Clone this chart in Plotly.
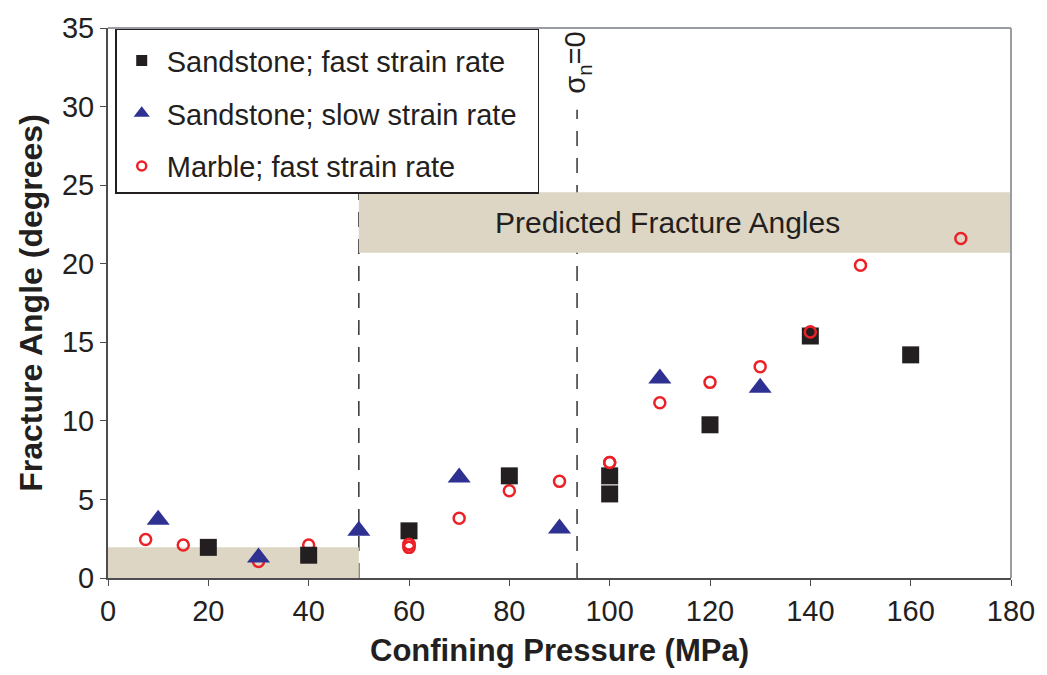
import plotly.graph_objects as go

# Data
ss_fast_x = [20, 40, 60, 80, 100, 100, 120, 140, 160]
ss_fast_y = [1.95, 1.45, 3.0, 6.5, 6.5, 5.35, 9.75, 15.4, 14.2]

ss_slow_x = [10, 30, 50, 70, 90, 110, 130]
ss_slow_y = [3.7, 1.3, 3.0, 6.4, 3.15, 12.7, 12.1]

marble_x = [7.5, 15, 30, 40, 60, 60, 70, 80, 90, 100, 110, 120, 130, 140, 150, 170]
marble_y = [2.45, 2.1, 1.05, 2.1, 2.15, 1.95, 3.8, 5.55, 6.15, 7.35, 11.15, 12.45, 13.45, 15.65, 19.9, 21.6]

names = ["Sandstone; fast strain rate", "Sandstone; slow strain rate\u00a0\u00a0", "Marble; fast strain rate"]

# Regions
low_band_x = [0, 50]
low_band_y = [0, 1.95]
pred_band_x = [50, 180]
pred_band_y = [20.7, 24.55]
dash1_x = 50
dash1_y = [0, 25]
dash2_x = 93.5
dash2_y = [0, 29.8]

FONT = "Liberation Sans, Arial, sans-serif"
TXT = "#231f20"
BEIGE = "#ddd6c4"

fig = go.Figure()

fig.add_trace(go.Scatter(x=marble_x, y=marble_y, mode="markers", showlegend=False,
                         marker=dict(symbol="circle-open", size=11, color="#ec2127", line=dict(width=2.5, color="#ec2127"))))
fig.add_trace(go.Scatter(x=ss_fast_x, y=ss_fast_y, mode="markers", showlegend=False,
                         marker=dict(symbol="square", size=17, color="#231f20", line=dict(width=0))))
fig.add_trace(go.Scatter(x=ss_slow_x, y=ss_slow_y, mode="markers", showlegend=False,
                         marker=dict(symbol="triangle-up", size=20, color="#2e3192", line=dict(width=0))))
sel = [i for i in range(len(marble_x)) if marble_x[i] in (60, 100, 140)]
fig.add_trace(go.Scatter(x=[marble_x[i] for i in sel], y=[marble_y[i] for i in sel],
                         mode="markers", showlegend=False,
                         marker=dict(symbol="circle-open", size=11, color="#ec2127", line=dict(width=2.5, color="#ec2127"))))

# legend entries
fig.add_trace(go.Scatter(x=[None], y=[None], mode="markers", name=names[0], legendgroup="a",
                         marker=dict(symbol="square", size=11, color="#231f20", line=dict(width=0))))
fig.add_trace(go.Scatter(x=[None], y=[None], mode="markers", name=names[1], legendgroup="b",
                         marker=dict(symbol="triangle-up", size=14, color="#2e3192", line=dict(width=0))))
fig.add_trace(go.Scatter(x=[None], y=[None], mode="markers", name=names[2], legendgroup="c",
                         marker=dict(symbol="circle-open", size=9, color="#ec2127", line=dict(width=2.5, color="#ec2127"))))

shapes = []
shapes.append(dict(type="line", xref="x", yref="y", x0=dash1_x, x1=dash1_x, y0=dash1_y[0], y1=dash1_y[1],
                   line=dict(color="#333333", width=1.5, dash="15px,12px"), layer="below"))
shapes.append(dict(type="line", xref="x", yref="y", x0=dash2_x, x1=dash2_x, y0=dash2_y[0], y1=dash2_y[1],
                   line=dict(color="#333333", width=1.5, dash="15px,12px"), layer="below"))
shapes.append(dict(type="rect", xref="x", yref="y", x0=low_band_x[0], x1=low_band_x[1], y0=low_band_y[0], y1=low_band_y[1],
                   fillcolor=BEIGE, line=dict(width=0), layer="below"))
shapes.append(dict(type="rect", xref="x", yref="y", x0=pred_band_x[0], x1=pred_band_x[1], y0=pred_band_y[0], y1=pred_band_y[1],
                   fillcolor=BEIGE, line=dict(width=0), layer="below"))
shapes.append(dict(type="line", xref="paper", yref="paper", x0=0, x1=1, y0=1, y1=1, line=dict(color="#9a9ea3", width=2)))
shapes.append(dict(type="line", xref="paper", yref="paper", x0=1, x1=1, y0=0, y1=1, line=dict(color="#9a9ea3", width=2)))

annotations = [
    dict(x=111.5, y=22.6, xref="x", yref="y", text="Predicted Fracture Angles", showarrow=False,
         font=dict(family=FONT, size=30, color=TXT)),
    dict(x=dash2_x, y=32.8, xref="x", yref="y", text="σ<sub>n</sub>=0", showarrow=False, textangle=-90,
         font=dict(family=FONT, size=29, color=TXT)),
]

fig.update_layout(
    width=1047, height=675,
    margin=dict(l=108, r=31, t=22, b=97),
    paper_bgcolor="white", plot_bgcolor="white",
    font=dict(family=FONT, color=TXT),
    shapes=shapes, annotations=annotations,
    showlegend=True,
    legend=dict(x=0.008, y=0.999, xanchor="left", yanchor="top",
                bgcolor="white", bordercolor="#231f20", borderwidth=1.5,
                font=dict(family=FONT, size=29, color=TXT),
                title=dict(text="\u00a0", font=dict(size=4)),
                tracegroupgap=12, itemsizing="trace", itemwidth=40),
    xaxis=dict(range=[0, 180], tickvals=list(range(0, 181, 20)), showgrid=False, zeroline=False,
               showline=True, linecolor="#4d4d4f", linewidth=2, ticks="outside", ticklen=6, tickcolor="#4d4d4f",
               tickfont=dict(family=FONT, size=29, color=TXT),
               title=dict(text="<b>Confining Pressure (MPa)</b>", font=dict(family=FONT, size=31, color=TXT), standoff=14)),
    yaxis=dict(range=[0, 35], tickvals=list(range(0, 36, 5)), showgrid=False, zeroline=False,
               showline=True, linecolor="#4d4d4f", linewidth=2, ticks="outside", ticklen=6, tickcolor="#4d4d4f",
               tickfont=dict(family=FONT, size=29, color=TXT),
               title=dict(text="<b>Fracture Angle (degrees)</b>", font=dict(family=FONT, size=32, color=TXT), standoff=10)),
)

fig.write_html("out.html")
